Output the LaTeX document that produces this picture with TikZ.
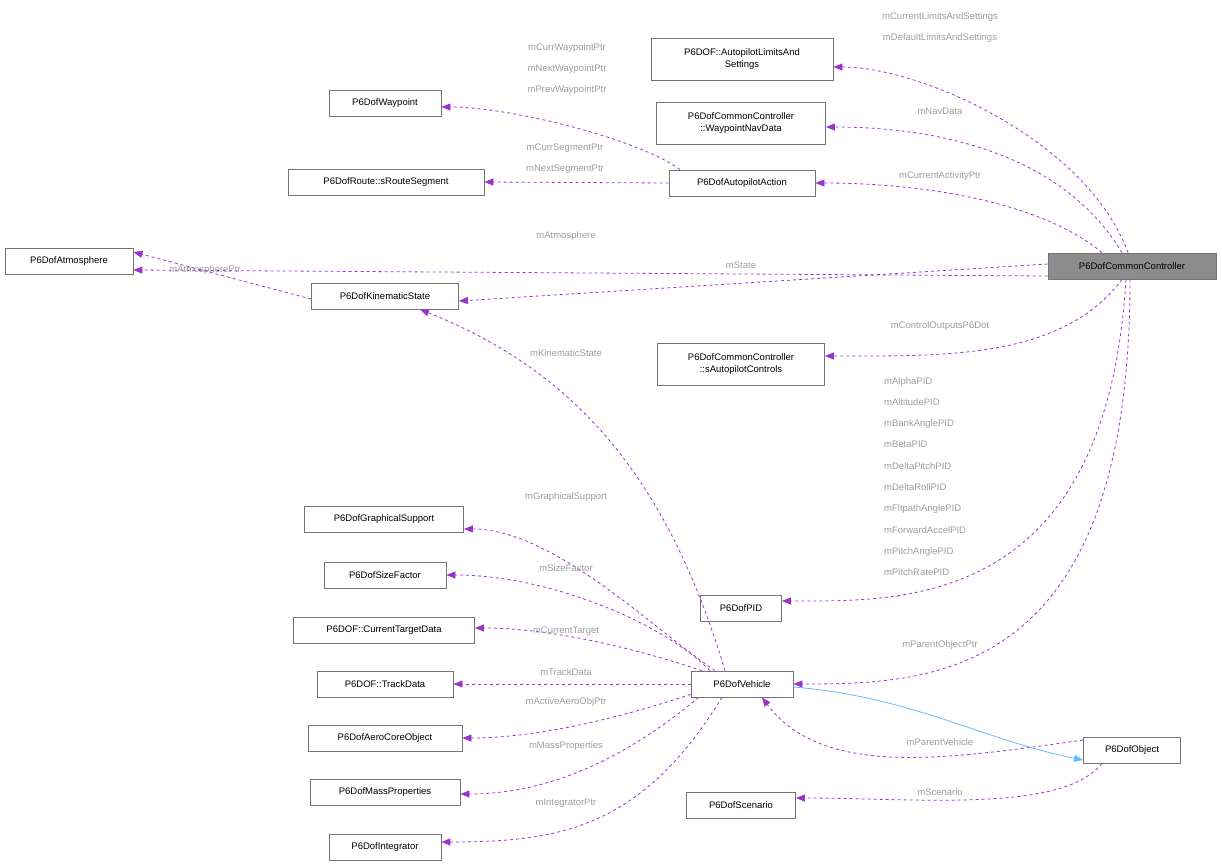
\documentclass[tikz,border=0pt]{standalone}
\usepackage{fontspec}
\setmainfont{Liberation Sans}
\usetikzlibrary{arrows.meta}
\definecolor{usecol}{HTML}{9A32CD}
\definecolor{inhcol}{HTML}{63B8FF}
\definecolor{lblcol}{HTML}{9C9C9C}
\begin{document}
\begin{tikzpicture}[x=1pt,y=-1pt,
    cls/.style={draw=black!55, line width=0.8pt, fill=white, inner sep=2pt,
                font=\fontsize{9.5}{11.5}\selectfont, align=center, minimum height=26pt},
    self/.style={cls, fill=black!45},
    use/.style={draw=usecol, dashed, line width=0.8pt, -{Triangle[length=9pt,width=7pt]}},
    inh/.style={draw=inhcol, line width=0.8pt, -{Triangle[length=9pt,width=7pt]}},
    lbl/.style={text=lblcol, font=\fontsize{9.5}{11.5}\selectfont, inner sep=0pt, anchor=center}]
\useasboundingbox (0,0) rectangle (1222,867);
% classes
\node[cls, minimum width=182pt, minimum height=42pt] (limits) at (742,59) {P6DOF::AutopilotLimitsAnd\\Settings};
\node[cls, minimum width=169pt, minimum height=42pt] (navdata) at (741,123) {P6DofCommonController\\::WaypointNavData};
\node[cls, minimum width=112pt] (waypoint) at (385,103) {P6DofWaypoint};
\node[cls, minimum width=196pt] (segment) at (386,182) {P6DofRoute::sRouteSegment};
\node[cls, minimum width=146pt] (action) at (742,183) {P6DofAutopilotAction};
\node[cls, minimum width=128pt] (atmos) at (69,261) {P6DofAtmosphere};
\node[self, minimum width=168pt] (ctrl) at (1132,266) {P6DofCommonController};
\node[cls, minimum width=147pt] (kin) at (385,296) {P6DofKinematicState};
\node[cls, minimum width=167pt, minimum height=42pt] (apctrl) at (741,364) {P6DofCommonController\\::sAutopilotControls};
\node[cls, minimum width=159pt] (graph) at (384,519) {P6DofGraphicalSupport};
\node[cls, minimum width=122pt] (size) at (385,575) {P6DofSizeFactor};
\node[cls, minimum width=181pt] (target) at (384,630) {P6DOF::CurrentTargetData};
\node[cls, minimum width=81pt] (pid) at (741,608) {P6DofPID};
\node[cls, minimum width=136pt] (track) at (385,684) {P6DOF::TrackData};
\node[cls, minimum width=102pt] (vehicle) at (742,684) {P6DofVehicle};
\node[cls, minimum width=154pt] (aero) at (385,738) {P6DofAeroCoreObject};
\node[cls, minimum width=97pt] (object) at (1132,750) {P6DofObject};
\node[cls, minimum width=150pt] (mass) at (385,792) {P6DofMassProperties};
\node[cls, minimum width=109pt] (scen) at (741,805) {P6DofScenario};
\node[cls, minimum width=112pt] (integ) at (385,847) {P6DofIntegrator};

% connectors from the controller
\draw[use] ([xshift=-4pt]ctrl.north) .. controls +(-40,-110) and +(90,0) .. ([yshift=-8pt]limits.east);
\draw[use] ([xshift=-10pt]ctrl.north) .. controls +(-60,-100) and +(110,0) .. ([yshift=-4pt]navdata.east);
\draw[use] ([xshift=-30pt]ctrl.north) .. controls +(-60,-50) and +(110,0) .. (action.east);
\draw[use] ([yshift=-10pt]ctrl.west) -- ([yshift=-9pt]atmos.east);
\draw[use] ([yshift=2pt]ctrl.west) -- ([yshift=-5pt]kin.east);
\draw[use] ([xshift=-10pt]ctrl.south) .. controls +(-60,80) and +(120,0) .. ([yshift=8pt]apctrl.east);
\draw[use] ([xshift=-6pt]ctrl.south) .. controls +(-20,330) and +(120,0) .. ([yshift=7pt]pid.east);
\draw[use] ([xshift=-2pt]ctrl.south) .. controls +(0,400) and +(140,0) .. (vehicle.east);
% other connectors
\draw[use] ([xshift=-62pt]action.north) .. controls +(-40,-30) and +(70,0) .. ([yshift=-4pt]waypoint.east);
\draw[use] (action.west) -- (segment.east);
\draw[use] ([yshift=-3pt]kin.west) -- ([yshift=9pt]atmos.east);
\draw[use] ([xshift=-17pt]vehicle.north) .. controls +(-60,-200) and +(150,60) .. ([xshift=35pt]kin.south);
\draw[use] ([xshift=-27pt]vehicle.north) .. controls +(-60,-40) and +(90,0) .. ([yshift=-10pt]graph.east);
\draw[use] ([xshift=-32pt]vehicle.north) .. controls +(-50,-50) and +(100,0) .. (size.east);
\draw[use] ([xshift=-40pt]vehicle.north) .. controls +(-60,-20) and +(80,0) .. ([yshift=2pt]target.east);
\draw[use] (vehicle.west) -- (track.east);
\draw[use] ([yshift=3pt]vehicle.south west) .. controls +(-60,20) and +(80,0) .. (aero.east);
\draw[use] ([xshift=8pt]vehicle.south west) .. controls +(-60,50) and +(100,0) .. ([yshift=-2pt]mass.east);
\draw[use] ([xshift=-20pt]vehicle.south) .. controls +(-80,130) and +(120,0) .. ([yshift=5pt]integ.east);
\draw[use] ([yshift=10pt]object.west) .. controls +(-140,20) and +(60,80) .. ([xshift=20pt]vehicle.south);
\draw[use] ([xshift=-30pt]object.south) .. controls +(-40,50) and +(120,0) .. ([yshift=7pt]scen.east);
\draw[inh] ([yshift=-3pt]vehicle.east) .. controls +(120,10) and +(-100,-20) .. ([yshift=-10pt]object.west);

% labels
\node[lbl] (l1) at (940,17) {mCurrentLimitsAndSettings};
\node[lbl] (l2) at (940,38) {mDefaultLimitsAndSettings};
\node[lbl] (l3) at (940,111) {mNavData};
\node[lbl] (l4) at (940,176) {mCurrentActivityPtr};
\node[lbl] (l5) at (566,236) {mAtmosphere};
\node[lbl] (l6) at (741,265) {mState};
\node[lbl] (l7) at (940,326) {mControlOutputsP6Dot};
\node[lbl, anchor=north west, align=left, font=\fontsize{9.5}{21.3}\selectfont] (l8) at (884,377)
  {mAlphaPID\\mAltitudePID\\mBankAnglePID\\mBetaPID\\mDeltaPitchPID\\mDeltaRollPID\\mFltpathAnglePID\\mForwardAccelPID\\mPitchAnglePID\\mPitchRatePID\\\hspace*{8pt}...};
\node[lbl] (l9) at (940,645) {mParentObjectPtr};
\node[lbl] (l10) at (567,48) {mCurrWaypointPtr};
\node[lbl] (l11) at (567,69) {mNextWaypointPtr};
\node[lbl] (l12) at (567,90) {mPrevWaypointPtr};
\node[lbl] (l13) at (565,148) {mCurrSegmentPtr};
\node[lbl] (l14) at (565,169) {mNextSegmentPtr};
\node[lbl] (l15) at (205,270) {mAtmospherePtr};
\node[lbl] (l16) at (566,353) {mKinematicState};
\node[lbl] (l17) at (566,497) {mGraphicalSupport};
\node[lbl] (l18) at (566,568) {mSizeFactor};
\node[lbl] (l19) at (566,631) {mCurrentTarget};
\node[lbl] (l20) at (566,672) {mTrackData};
\node[lbl] (l21) at (566,702) {mActiveAeroObjPtr};
\node[lbl] (l22) at (566,746) {mMassProperties};
\node[lbl] (l23) at (566,803) {mIntegratorPtr};
\node[lbl] (l24) at (940,742) {mParentVehicle};
\node[lbl] (l25) at (940,792) {mScenario};
\end{tikzpicture}
\end{document}
